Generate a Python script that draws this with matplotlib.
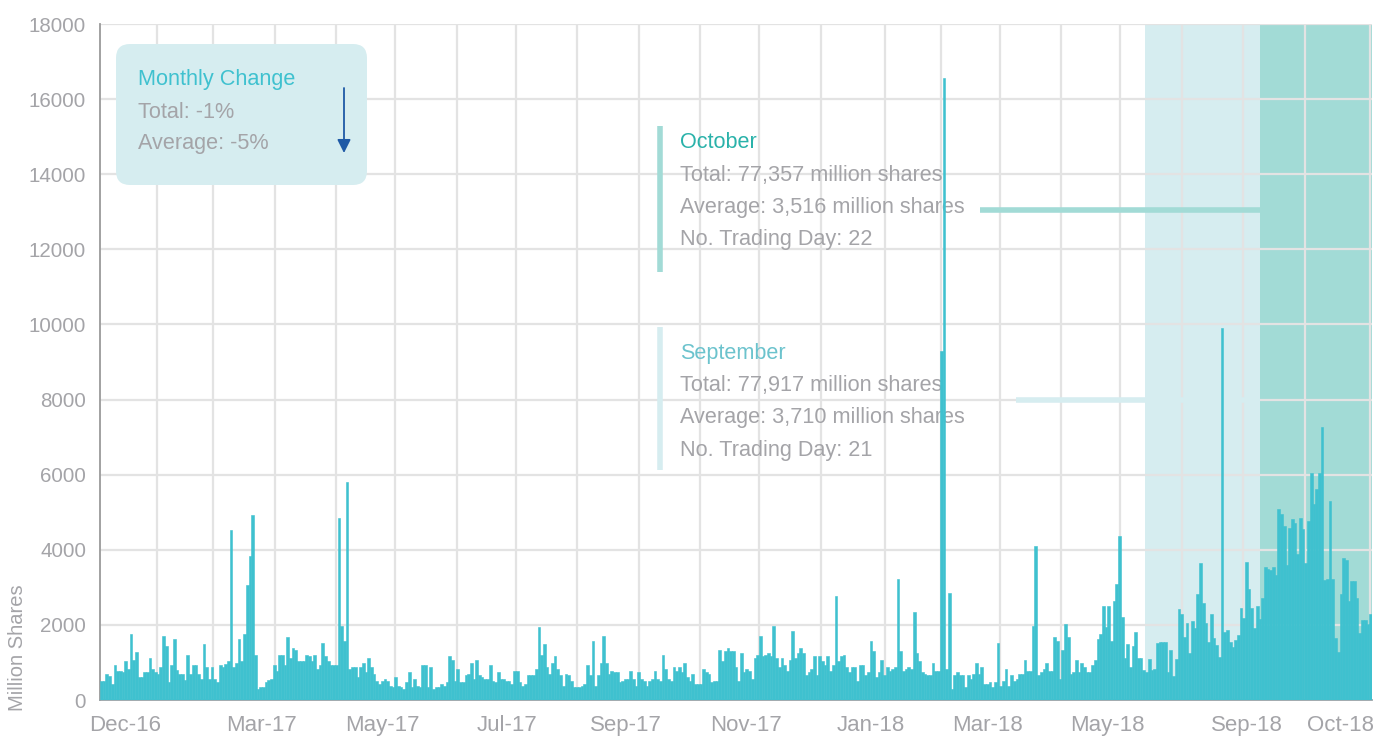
import matplotlib
matplotlib.use("Agg")
import matplotlib.pyplot as plt
from matplotlib.patches import FancyBboxPatch
from matplotlib.transforms import IdentityTransform
import numpy as np

# ---------------- data (daily turnover, million shares) ----------------
vol_dec16_feb17 = [513, 513, 702, 648, 423, 927, 783, 783, 747, 1035, 837, 1755, 1053, 1287, 612, 612,
                   747, 747, 1107, 837, 747, 702, 882, 1710, 1431, 477, 927, 1620, 792, 702, 702, 531,
                   1206, 702, 927, 927, 702, 567, 1485, 882, 567, 882, 567, 477, 927, 882, 963, 1035,
                   4518, 882, 990, 1620, 1035, 1755, 3051, 3825, 4923, 1206, 300, 333, 333, 477, 531,
                   567, 927, 783, 1206, 1206, 927, 1665, 1107, 1386, 1341, 1035, 1035, 1035, 1206, 1170]
vol_apr17_jul17 = [1035, 1206, 837, 927, 1530, 1170, 1035, 927, 927, 927, 4833, 1980, 1575, 5805, 837,
                   882, 882, 612, 882, 972, 747, 1107, 882, 702, 513, 423, 513, 567, 513, 378, 333,
                   612, 378, 333, 288, 477, 747, 333, 567, 378, 333, 927, 927, 333, 882, 288, 333, 333,
                   423, 378, 477, 1170, 1071, 513, 837, 477, 477, 657, 702, 972, 567, 1071, 657, 612,
                   567, 567, 927, 513, 477, 747, 567, 567, 513, 513, 423, 783]
vol_jul17_oct17 = [783, 477, 378, 423, 657, 657, 657, 837, 1935, 1206, 1485, 882, 702, 972, 1161, 837,
                   657, 378, 702, 657, 513, 333, 333, 333, 378, 423, 927, 657, 1575, 378, 657, 972, 1710,
                   972, 702, 783, 747, 747, 477, 513, 567, 567, 783, 567, 378, 747, 567, 513, 378, 513,
                   567, 783, 567, 513, 1206, 837, 567, 513, 882, 783, 882, 747, 972, 612, 513, 702, 423,
                   423, 423, 837, 747, 702, 477, 513, 513, 1341, 1035, 1305]
vol_oct17_jan18 = [1386, 1305, 1305, 882, 513, 1251, 747, 837, 783, 567, 1107, 1206, 1710, 1170, 1206,
                   1251, 1170, 1980, 1107, 882, 1107, 927, 783, 1071, 1845, 1107, 1251, 1386, 1251,
                   657, 747, 837, 1161, 657, 1161, 1035, 927, 1161, 783, 927, 2763, 1035, 1161, 1206,
                   882, 747, 882, 882, 513, 927, 927, 657, 747, 1575, 1305, 612, 747, 1071, 657, 882, 783,
                   837, 882, 3213, 1305, 783, 837, 882, 837, 2349, 1251, 1035, 747, 702, 657, 657]
vol_feb18_may18 = [972, 783, 783, 9300, 16550, 837, 2862, 300, 657, 747, 657, 657, 333, 657, 567, 702,
                   972, 702, 882, 423, 423, 477, 333, 477, 1530, 378, 513, 837, 378, 657, 513, 567, 702,
                   702, 1071, 783, 783, 1980, 4095, 657, 747, 837, 972, 783, 783, 1665, 1575, 567, 1341,
                   2025, 1665, 702, 747, 1071, 747, 972, 882, 747, 747, 927, 1071, 1620, 1755, 2493, 1935,
                   2493, 1575, 2628, 3087, 4365, 2214, 1107, 1485, 882, 1431, 1800, 1107, 1107]
vol_jun18_oct18 = [798, 754, 1091, 798, 825, 1508, 1552, 1552, 1552, 754, 1330, 648, 1091, 2413, 2280,
                   1685, 2058, 1242, 2102, 1925, 2812, 3637, 2590, 2058, 1552, 2280, 1641, 1464, 1153,
                   9917, 1818, 1863, 1552, 1419, 1600, 1730, 2457, 2191, 3672, 2945, 2457, 1925, 2501,
                   2147, 2723, 3539, 3500, 3450, 3539, 3317, 5074, 4941, 4630, 3592, 4586, 4808, 4700,
                   3876, 4852, 4541, 3637, 4763, 6032, 5216, 5615, 6032, 7256, 3184, 3211, 5304, 3211,
                   1641, 1286, 2812, 3770, 3725, 2634, 3167, 3167, 2723, 1792, 2129, 2129, 2013, 2280]

xtick_labels = ["Dec-16", "Mar-17", "May-17", "Jul-17", "Sep-17", "Nov-17",
                "Jan-18", "Mar-18", "May-18", "Sep-18", "Oct-18"]
ytick_values = [0, 2000, 4000, 6000, 8000, 10000, 12000, 14000, 16000, 18000]

box_title = "Monthly Change"
box_lines = ["Total: -1%", "Average: -5%"]
oct_title = "October"
oct_lines = ["Total: 77,357 million shares", "Average: 3,516 million shares", "No. Trading Day: 22"]
sep_title = "September"
sep_lines = ["Total: 77,917 million shares", "Average: 3,710 million shares", "No. Trading Day: 21"]

volumes = np.array(vol_dec16_feb17 + vol_apr17_jul17 + vol_jul17_oct17 +
                   vol_oct17_jan18 + vol_feb18_may18 + vol_jun18_oct18, dtype=float)

# ---------------- style ----------------
BAR = "#3fc1cf"
GRID = "#e3e3e3"
GRAY = "#a4a4a8"
SEP_SHADE = "#d6edf0"
OCT_SHADE = "#a2dbd6"
OCT_TXT = "#2ab2aa"
SEP_TXT = "#6cc3cd"
FONT = ["Liberation Sans", "DejaVu Sans"]
plt.rcParams["font.family"] = FONT

W, H = 1392, 747
L, R, T, B = 100, 1372, 24, 700
fig = plt.figure(figsize=(W / 100, H / 100), dpi=100)
fig.patch.set_facecolor("white")
ax = fig.add_axes([L / W, 1 - B / H, (R - L) / W, (B - T) / H])

N = len(volumes)
idx = np.arange(N)


def px2idx(px):
    return (np.asarray(px, dtype=float) - L) / (R - L) * N - 0.5


def fx(px):
    return px / W


def fy(py):
    return 1 - py / H


ax.set_xlim(-0.5, N - 0.5)
ax.set_ylim(0, 18000)

# shaded months
ax.axvspan(px2idx(1145), px2idx(1260), color=SEP_SHADE, zorder=0.2, lw=0)
ax.axvspan(px2idx(1260), px2idx(1372), color=OCT_SHADE, zorder=0.2, lw=0)

# grid
ax.set_axisbelow(True)
ax.set_yticks(ytick_values)
ax.set_yticklabels([str(v) for v in ytick_values])
ax.yaxis.grid(True, color=GRID, lw=1.6, zorder=0.5)
vgrid_px = [157, 213, 275, 336, 395, 457, 516, 577, 639, 700, 759, 821, 885, 941,
            1000, 1061, 1120, 1182, 1243, 1305, 1370]
for gx in px2idx(vgrid_px):
    ax.axvline(gx, color=GRID, lw=1.6, zorder=0.5)

# bars
ax.bar(idx, volumes, width=1.0, color=BAR, edgecolor=BAR, linewidth=0.4, zorder=3)

# ticks
ax.set_xticks(px2idx([125, 261, 382, 507, 626, 746, 871, 988, 1107, 1247, 1340]))
ax.set_xticklabels(xtick_labels)
ax.tick_params(axis="x", length=0, pad=11, labelsize=16, labelcolor=GRAY)
ax.tick_params(axis="y", length=0, pad=10, labelsize=14.8, labelcolor=GRAY)

for s in ["top", "right"]:
    ax.spines[s].set_visible(False)
ax.spines["left"].set_color("#9a9a9a")
ax.spines["left"].set_linewidth(1.3)
ax.spines["bottom"].set_color("#9aa4a8")
ax.spines["bottom"].set_linewidth(1.3)

fig.text(fx(18), fy(648), "Million Shares", rotation=90, ha="center", va="center",
         fontsize=14.5, color=GRAY)

# Monthly change box
r = 14
box = FancyBboxPatch((116 + r, (H - 185) + r), (367 - 116) - 2 * r, (185 - 44) - 2 * r,
                     boxstyle=f"round,pad={r},rounding_size={r}", transform=IdentityTransform(),
                     facecolor=SEP_SHADE, edgecolor="none", zorder=2)
ax.add_patch(box)
ax.text(fx(138), fy(79), box_title, transform=fig.transFigure, ha="left", va="center",
        fontsize=15.6, color=BAR, zorder=4)
for i, s in enumerate(box_lines):
    ax.text(fx(138), fy(112 + 32 * i), s, transform=fig.transFigure, ha="left", va="center",
            fontsize=15.6, color=GRAY, zorder=4)
ax.annotate("", xy=(344, H - 153), xytext=(344, H - 88), xycoords="figure pixels",
            textcoords="figure pixels",
            arrowprops=dict(arrowstyle="-|>", color="#1f5aa6", lw=1.3, mutation_scale=20,
                            shrinkA=0, shrinkB=0), zorder=4)

# October annotation
ax.plot([fx(660), fx(660)], [fy(126), fy(272)], transform=fig.transFigure, color=OCT_SHADE,
        lw=4, solid_capstyle="butt", zorder=2)
ax.text(fx(680), fy(143), oct_title, transform=fig.transFigure, ha="left", va="center",
        fontsize=15.6, color=OCT_TXT, zorder=2)
for i, s in enumerate(oct_lines):
    ax.text(fx(680), fy(176 + 32 * i), s, transform=fig.transFigure, ha="left", va="center",
            fontsize=15.6, color=GRAY, zorder=2)
ax.plot([fx(980), fx(1260)], [fy(210), fy(210)], transform=fig.transFigure, color=OCT_SHADE,
        lw=4, solid_capstyle="butt", zorder=2)

# September annotation
ax.plot([fx(660), fx(660)], [fy(327), fy(470)], transform=fig.transFigure, color=SEP_SHADE,
        lw=4, solid_capstyle="butt", zorder=2)
ax.text(fx(680), fy(354), sep_title, transform=fig.transFigure, ha="left", va="center",
        fontsize=15.6, color=SEP_TXT, zorder=2)
for i, s in enumerate(sep_lines):
    ax.text(fx(680), fy(386 + 32 * i), s, transform=fig.transFigure, ha="left", va="center",
            fontsize=15.6, color=GRAY, zorder=2)
ax.plot([fx(1016), fx(1260)], [fy(400), fy(400)], transform=fig.transFigure, color=SEP_SHADE,
        lw=4, solid_capstyle="butt", zorder=2)

fig.savefig("out.png", dpi=100, facecolor="white")
